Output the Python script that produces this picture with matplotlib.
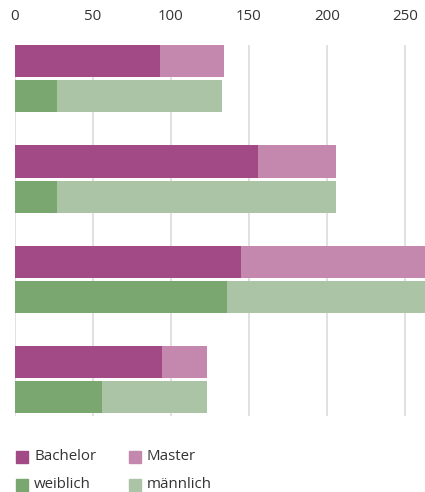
import matplotlib
matplotlib.use("Agg")
import matplotlib.pyplot as plt
from matplotlib.patches import Rectangle
import numpy as np

plt.rcParams['font.family'] = ['Open Sans', 'DejaVu Sans']

groups = ["G1", "G2", "G3", "G4"]
bachelor = [93, 156, 145, 94]
master = [41, 50, 130, 29]
weiblich = [27, 27, 136, 56]
maennlich = [106, 179, 139, 67]
ticks = [0, 50, 100, 150, 200, 250]
legend_labels = ["Bachelor", "Master", "weiblich", "männlich"]

c_bach = "#a24a85"
c_mast = "#c488ae"
c_weib = "#7aa66f"
c_maen = "#aac4a5"

W, H = 425, 492
fig = plt.figure(figsize=(W / 100, H / 100), dpi=100)
ax = fig.add_axes([15 / W, (H - 416) / H, (425 - 15) / W, (416 - 45) / H])

y = np.arange(len(groups))
off, h = 0.175, 0.32
ax.barh(y - off, bachelor, height=h, color=c_bach, zorder=3)
ax.barh(y - off, master, left=bachelor, height=h, color=c_mast, zorder=3)
ax.barh(y + off, weiblich, height=h, color=c_weib, zorder=3)
ax.barh(y + off, maennlich, left=weiblich, height=h, color=c_maen, zorder=3)

ax.set_xlim(0, 263)
ax.set_ylim(3.36, -0.335)
ax.set_xticks(ticks)
ax.set_yticks([])
ax.xaxis.tick_top()
ax.tick_params(axis='x', length=0, pad=15, labelsize=10.8, labelcolor="#333333")
ax.grid(axis='x', color="#d9d9d9", linewidth=1.1, zorder=0)
for s in ax.spines.values():
    s.set_visible(False)

# legend
cols = [c_bach, c_mast, c_weib, c_maen]
pos = [(16, 451), (129, 451), (16, 479), (129, 479)]
for (px, py), col, lab in zip(pos, cols, legend_labels):
    fig.patches.append(Rectangle((px / W, 1 - (py + 12) / H), 12 / W, 12 / H,
                                 transform=fig.transFigure, color=col))
    fig.text((px + 18) / W, 1 - (py + 6) / H, lab, va='center', ha='left',
             fontsize=10.8, color="#333333")

fig.savefig("out.png", dpi=100)
